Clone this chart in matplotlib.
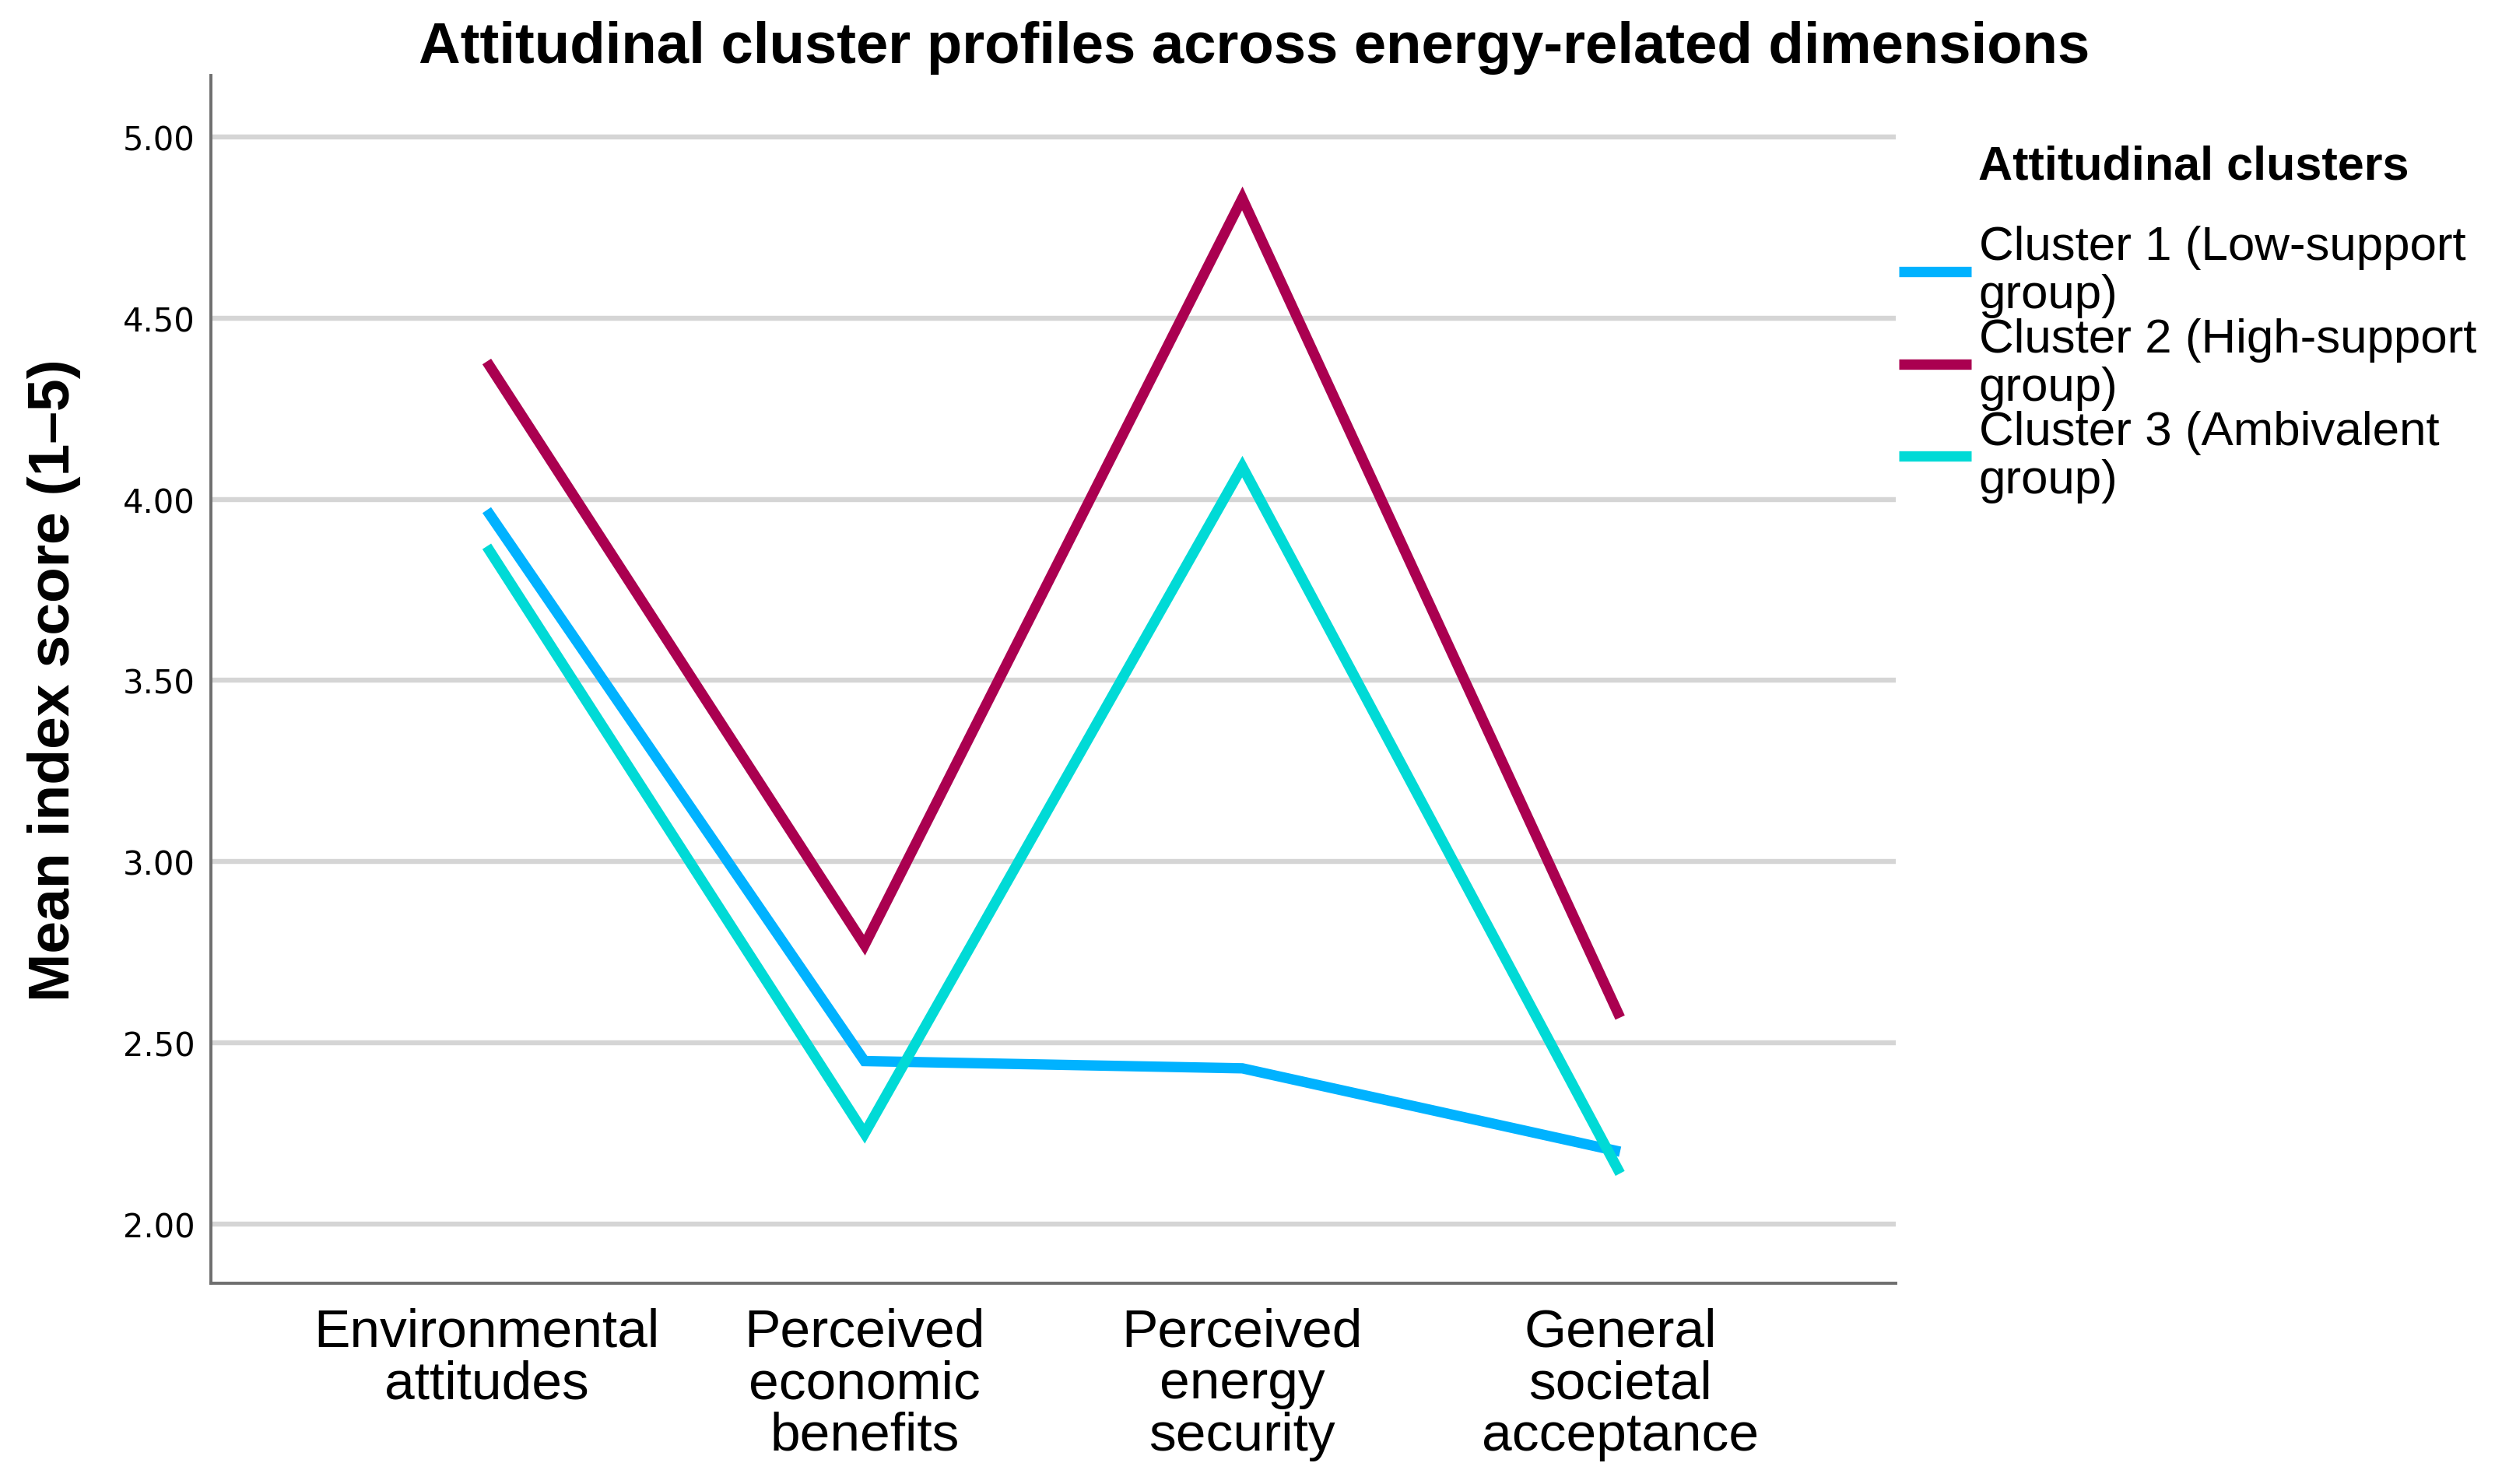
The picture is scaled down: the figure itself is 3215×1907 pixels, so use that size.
import numpy as np
import matplotlib.pyplot as plt

# category axis and cluster means
dimensions = ["Environmental\nattitudes", "Perceived\neconomic\nbenefits",
              "Perceived\nenergy\nsecurity", "General\nsocietal\nacceptance"]
cluster_labels = ["Cluster 1 (Low-support\ngroup)", "Cluster 2 (High-support\ngroup)",
                  "Cluster 3 (Ambivalent\ngroup)"]
cluster1 = [3.97, 2.45, 2.43, 2.20]
cluster2 = [4.38, 2.77, 4.83, 2.57]
cluster3 = [3.87, 2.25, 4.09, 2.14]
yticks = [2.0, 2.5, 3.0, 3.5, 4.0, 4.5, 5.0]

colors = ["#00B2FF", "#AA0050", "#00DAD6"]
LW = 4.8

plt.rcParams['font.family'] = ['Liberation Sans', 'DejaVu Sans']

fig = plt.figure(figsize=(16.08, 9.54), dpi=200)
ax = fig.add_axes([0.0843, 0.1352, 0.7575 - 0.0843, 0.9486 - 0.1352])

x = np.arange(len(dimensions))
handles = []
for vals, col, lab in zip([cluster1, cluster2, cluster3], colors, cluster_labels):
    h, = ax.plot(x, vals, color=col, lw=LW, solid_joinstyle='miter',
                 solid_capstyle='butt', label=lab, zorder=3)
    handles.append(h)

ax.set_xlim(-0.73, 3.73)
ax.set_ylim(1.837, 5.169)
ax.set_yticks(yticks)
ax.set_yticklabels([f"{v:.2f}" for v in yticks], family='DejaVu Sans', fontsize=15)
ax.set_xticks(x)
ax.set_xticklabels(dimensions, fontsize=25, linespacing=1.05)
ax.tick_params(axis='both', length=0)
ax.tick_params(axis='y', pad=7.5)
ax.tick_params(axis='x', pad=11)

ax.grid(axis='y', color='#d5d5d5', lw=2.3, zorder=0)
for s in ['top', 'right']:
    ax.spines[s].set_visible(False)
for s in ['left', 'bottom']:
    ax.spines[s].set_color('#6e6e6e')
    ax.spines[s].set_linewidth(1.4)

ax.set_ylabel("Mean index score (1\u20135)", fontsize=27, fontweight='bold')
ax.yaxis.set_label_coords((104 - 271) / 2165, 0.5)

fig.suptitle("Attitudinal cluster profiles across energy-related dimensions",
             x=0.501, y=1 - 62 / 1908, va='center', fontsize=26.8, fontweight='bold')

fig.text(2542 / 3216, 1 - 215 / 1908, "Attitudinal clusters", fontsize=22,
         fontweight='bold', va='center', ha='left')
leg = fig.legend(handles, cluster_labels, loc='upper left',
                 bbox_to_anchor=(2440 / 3216, 1 - 290 / 1908),
                 frameon=False, fontsize=22.3, handlelength=1.5, handletextpad=0.16,
                 labelspacing=0.0, borderpad=0, borderaxespad=0)
for t in leg.get_texts():
    t.set_linespacing(1.11)
for lh in leg.legend_handles:
    lh.set_linewidth(LW)

fig.savefig("out.png", dpi=200)
